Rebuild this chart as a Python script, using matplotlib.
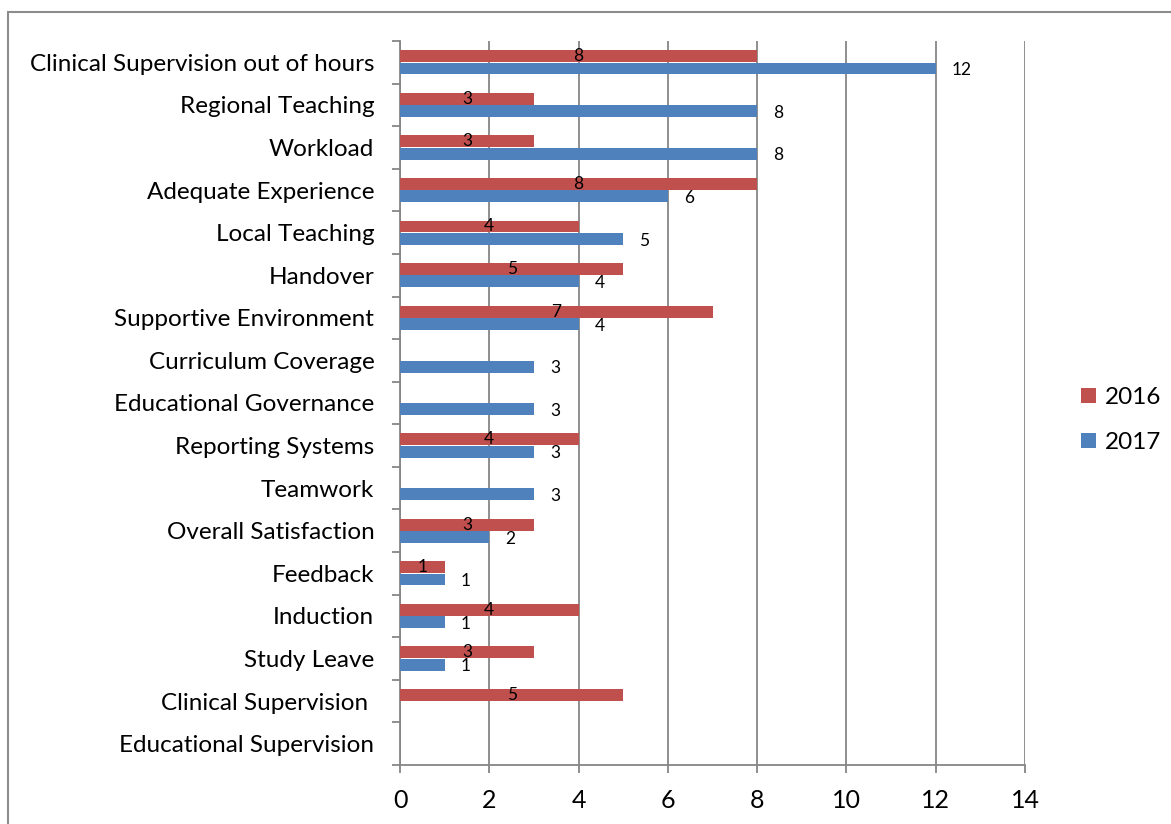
import numpy as np
import matplotlib
matplotlib.use("Agg")
import matplotlib.pyplot as plt
from matplotlib.patches import Rectangle

plt.rcParams['font.family'] = ['Lato', 'DejaVu Sans']

categories = [
    "Clinical Supervision out of hours", "Regional Teaching", "Workload",
    "Adequate Experience", "Local Teaching", "Handover",
    "Supportive Environment", "Curriculum Coverage", "Educational Governance",
    "Reporting Systems", "Teamwork", "Overall Satisfaction", "Feedback",
    "Induction", "Study Leave", "Clinical Supervision ", "Educational Supervision",
]
# None = no bar for that year
vals_2016 = [8, 3, 3, 8, 4, 5, 7, None, None, 4, None, 3, 1, 4, 3, 5, None]
vals_2017 = [12, 8, 8, 6, 5, 4, 4, 3, 3, 3, 3, 2, 1, 1, 1, None, None]

red = "#C0504D"
blue = "#4F81BD"
grid_col = "#868686"

fig = plt.figure(figsize=(11.71, 8.24), dpi=100)
ax = fig.add_axes([400 / 1171, 1 - 765 / 824, 625 / 1171, 724 / 824])

y = np.arange(len(categories))
bh = 0.28
off = 0.145

y16 = [yy - off for yy, v in zip(y, vals_2016) if v is not None]
v16 = [v for v in vals_2016 if v is not None]
y17 = [yy + off for yy, v in zip(y, vals_2017) if v is not None]
v17 = [v for v in vals_2017 if v is not None]

ax.barh(y16, v16, height=bh, color=red, label="2016", zorder=3)
ax.barh(y17, v17, height=bh, color=blue, label="2017", zorder=3)

# value labels: 2016 in the middle of bar, 2017 past the end
for yy, v in zip(y16, v16):
    ax.text(v / 2, yy, str(v), ha="center", va="center", fontsize=12.5, zorder=4)
for yy, v in zip(y17, v17):
    ax.text(v + 0.36, yy + 0.04, str(v), ha="left", va="center", fontsize=12.5, zorder=4)

ax.set_xlim(0, 14)
ax.set_ylim(len(categories) - 0.5, -0.5)
ax.set_xticks(range(0, 15, 2))
ax.set_yticks(y)
ax.set_yticklabels(categories, fontsize=17.5)
ax.set_yticks(np.arange(-0.5, len(categories), 1), minor=True)
ax.tick_params(axis="y", which="major", length=0, pad=18.5)
ax.tick_params(axis="y", which="minor", length=6, color=grid_col, width=1.3)
ax.tick_params(axis="x", length=6, color=grid_col, width=1.3, labelsize=18, pad=11)
ax.grid(axis="x", color=grid_col, linewidth=1.3, zorder=0)
for s in ["top", "right"]:
    ax.spines[s].set_visible(False)
for s in ["left", "bottom"]:
    ax.spines[s].set_color(grid_col)
    ax.spines[s].set_linewidth(1.3)

# outer chart frame
fig.patches.append(Rectangle((8 / 1171, -0.1), 1.2, 1.1 - 12 / 824,
                             transform=fig.transFigure, fill=False,
                             edgecolor="#8c8c8c", linewidth=1.5))

fig.legend(loc="center left", bbox_to_anchor=(1081 / 1171, 1 - 420 / 824),
           frameon=False, fontsize=17.5, handlelength=0.6, handleheight=0.6,
           handletextpad=0.4, labelspacing=1.0, borderpad=0, borderaxespad=0)

fig.savefig("out.png", dpi=100)
